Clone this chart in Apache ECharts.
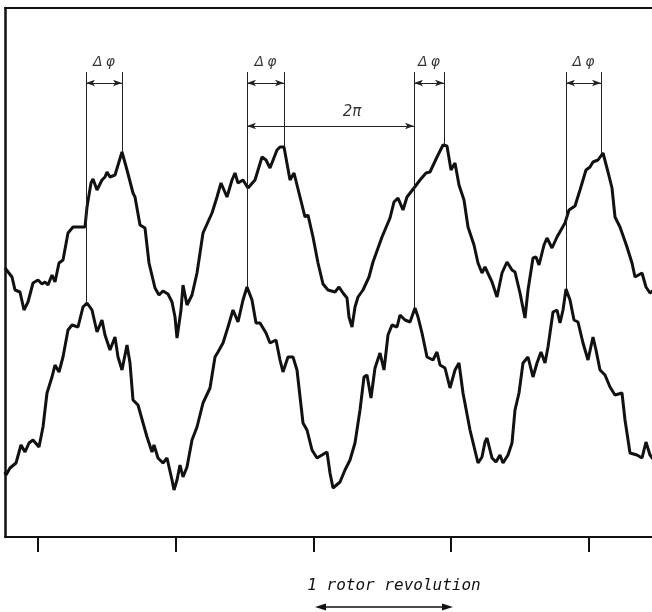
<!DOCTYPE html>
<html>
<head>
<meta charset="utf-8">
<script src="https://cdn.jsdelivr.net/npm/echarts@6/dist/echarts.min.js"></script>
<style>html,body{margin:0;padding:0;background:#fff}#c{width:652px;height:612px}</style>
</head>
<body>
<div id="c"></div>
<script>
// Signal traces: [position (arbitrary units, 0 = first tick), amplitude (arbitrary units)]
var upperTrace = [
[-33,269],[-31,267],[-26,260],[-23,247],[-18,245],[-14,227],[-10,235],[-5,254],[0,257],[4,253],[7,255],[10,252],[14,262],[17,255],[21,274],[25,277],[30,304],[35,310],[47,310],[49,330],[53,354],[55,358],[59,347],[64,357],[67,360],[69,365],[72,360],[77,362],[84,385],[89,367],[95,344],[97,340],[102,312],[107,309],[111,274],[117,249],[121,242],[125,246],[130,243],[134,235],[137,220],[139,199],[143,227],[145,252],[149,232],[154,242],[159,264],[165,304],[174,324],[179,340],[183,354],[189,340],[194,357],[197,364],[200,354],[205,357],[210,349],[217,357],[224,380],[228,377],[232,369],[239,387],[242,390],[246,390],[252,357],[256,364],[262,340],[267,320],[270,322],[275,300],[280,274],[285,253],[290,247],[297,245],[301,250],[305,244],[309,239],[311,220],[314,210],[317,230],[320,240],[325,247],[331,260],[335,275],[344,300],[352,319],[356,335],[360,339],[365,327],[369,340],[376,349],[382,357],[388,364],[392,365],[399,380],[405,392],[409,391],[413,367],[417,374],[421,352],[426,337],[430,310],[436,292],[440,274],[444,264],[447,270],[449,272],[454,255],[459,240],[464,264],[469,275],[474,267],[477,265],[482,244],[487,219],[490,247],[495,279],[498,280],[501,272],[506,292],[509,299],[514,289],[519,300],[527,314],[531,327],[537,331],[542,347],[548,367],[552,370],[555,375],[560,377],[565,384],[570,365],[574,349],[577,320],[582,310],[589,290],[594,274],[597,260],[604,264],[608,250],[612,244],[616,247]
];
var lowerTrace = [
[-33,65],[-32,62],[-28,69],[-22,74],[-17,92],[-13,85],[-9,94],[-5,97],[1,90],[5,110],[9,144],[14,160],[17,172],[21,165],[25,180],[30,207],[34,212],[40,210],[45,230],[49,234],[54,227],[59,205],[64,217],[67,202],[72,187],[77,200],[80,180],[84,167],[89,192],[92,174],[95,137],[100,132],[109,100],[114,85],[116,92],[120,79],[125,74],[129,79],[134,57],[136,47],[139,57],[142,72],[145,60],[149,70],[154,97],[159,110],[165,134],[172,149],[177,180],[180,185],[185,194],[190,210],[195,227],[200,215],[205,237],[209,250],[214,237],[218,214],[222,214],[228,204],[232,194],[238,197],[242,177],[245,165],[250,180],[255,180],[259,167],[265,114],[269,107],[274,87],[279,79],[284,82],[289,85],[292,64],[295,49],[302,55],[307,67],[312,77],[317,94],[322,127],[326,160],[329,162],[333,139],[337,169],[342,184],[346,167],[350,202],[354,212],[359,210],[362,222],[367,217],[372,215],[377,229],[380,220],[384,204],[389,180],[395,177],[399,185],[402,172],[407,169],[412,149],[417,167],[421,174],[425,144],[432,107],[440,74],[444,80],[447,95],[449,99],[454,79],[458,75],[462,82],[465,74],[470,82],[474,94],[477,127],[481,144],[485,174],[490,180],[495,160],[499,174],[503,185],[507,174],[510,190],[515,225],[519,227],[522,214],[525,227],[528,248],[532,237],[536,217],[540,215],[545,194],[550,177],[555,200],[558,187],[562,167],[567,162],[572,150],[577,142],[584,144],[587,117],[592,84],[599,82],[604,79],[608,95],[612,82],[616,77]
];
// Peak positions of the two traces
var lowerPeakX = [48, 209, 376, 528];
var lowerPeakY = [234, 250, 229, 248];
var upperPeakX = [84, 246, 406, 563];
var upperPeakY = [385, 390, 392, 384];
var leaderTop = 465;      // top of the vertical leader lines
var dphiArrowY = 454;     // Δφ dimension arrows
var dphiLabelY = 475;
var dphiLabel = ['Δ', 'φ'];
var periodArrow = {from: 209, to: 376, y: 411};
var periodLabel = {x: 314, y: 425, text: '2π'};
var tickX = [0, 137.75, 275.5, 413.25, 551];
var revolution = {from: 277, to: 415, text: '1 rotor revolution'};

var chart = echarts.init(document.getElementById('c'), null, {renderer: 'canvas'});

var leaderLines = [];
var dimArrows = [];
var labels = [];
for (var i = 0; i < lowerPeakX.length; i++) {
  leaderLines.push([{coord: [lowerPeakX[i], leaderTop]}, {coord: [lowerPeakX[i], lowerPeakY[i]]}]);
  leaderLines.push([{coord: [upperPeakX[i], leaderTop]}, {coord: [upperPeakX[i], upperPeakY[i]]}]);
  dimArrows.push([{coord: [lowerPeakX[i], dphiArrowY]}, {coord: [upperPeakX[i], dphiArrowY]}]);
  labels.push({name: '{a|' + dphiLabel[0] + '}{b|' + dphiLabel[1] + '}', value: [(lowerPeakX[i] + upperPeakX[i]) / 2, dphiLabelY]});
}
dimArrows.push([{coord: [periodArrow.from, periodArrow.y]}, {coord: [periodArrow.to, periodArrow.y]}]);
labels.push({name: '{c|' + periodLabel.text + '}', value: [periodLabel.x, periodLabel.y]});

var font = '"DejaVu Sans", sans-serif';
var txt = {color: '#000', fontSize: 14, fontStyle: 'italic', fontFamily: font};

chart.setOption({
  animation: false,
  backgroundColor: '#fff',
  grid: {left: 5, right: 0, top: 8, bottom: 75},
  xAxis: [{
    type: 'value', min: -33, max: 614, position: 'bottom',
    axisLine: {show: true, onZero: false, lineStyle: {color: '#111', width: 2}},
    splitLine: {show: false},
    axisLabel: {show: false},
    axisTick: {show: true, inside: false, length: 15, lineStyle: {color: '#111', width: 2}, customValues: tickX}
  }, {
    type: 'value', min: -33, max: 614, position: 'top',
    axisLine: {show: true, onZero: false, lineStyle: {color: '#111', width: 2}},
    splitLine: {show: false}, axisLabel: {show: false}, axisTick: {show: false}
  }],
  yAxis: {
    type: 'value', min: 0, max: 529, position: 'left',
    axisLine: {show: true, onZero: false, lineStyle: {color: '#111', width: 2.5}},
    axisTick: {show: false}, axisLabel: {show: false}, splitLine: {show: false}
  },
  series: [
    {type: 'line', data: upperTrace, symbol: 'none', lineStyle: {color: '#111', width: 3}, clip: true, z: 3},
    {type: 'line', data: lowerTrace, symbol: 'none', lineStyle: {color: '#111', width: 3}, clip: true, z: 3},
    {type: 'line', data: [], markLine: {silent: true, symbol: 'none', label: {show: false},
      lineStyle: {color: '#222', width: 1, type: 'solid'}, data: leaderLines}},
    {type: 'line', data: [], markLine: {silent: true, symbol: ['arrow', 'arrow'], symbolSize: [5, 9], label: {show: false},
      lineStyle: {color: '#222', width: 1, type: 'solid'}, data: dimArrows}},
    {type: 'scatter', data: labels, symbolSize: 0, silent: true,
      label: {show: true, position: 'inside', formatter: '{b}', textBorderWidth: 0,
        rich: {
          a: Object.assign({padding: [0, 3, 0, 0]}, txt),
          b: Object.assign({}, txt),
          c: Object.assign({}, txt, {fontSize: 15})
        }}}
  ]
});

var x1 = chart.convertToPixel({xAxisIndex: 0}, revolution.from);
var x2 = chart.convertToPixel({xAxisIndex: 0}, revolution.to);
var ay = 607;
chart.setOption({
  graphic: [
    {type: 'text', x: (x1 + x2) / 2 + 10, y: 586, style: {text: revolution.text, fill: '#111', font: 'italic 16px "DejaVu Sans Mono", monospace', align: 'center', verticalAlign: 'middle'}},
    {type: 'line', shape: {x1: x1 + 8, y1: ay, x2: x2 - 8, y2: ay}, style: {stroke: '#111', lineWidth: 1.5}},
    {type: 'polygon', shape: {points: [[x1, ay], [x1 + 11, ay - 3.5], [x1 + 11, ay + 3.5]]}, style: {fill: '#111'}},
    {type: 'polygon', shape: {points: [[x2, ay], [x2 - 11, ay - 3.5], [x2 - 11, ay + 3.5]]}, style: {fill: '#111'}}
  ]
});
</script>
</body>
</html>
